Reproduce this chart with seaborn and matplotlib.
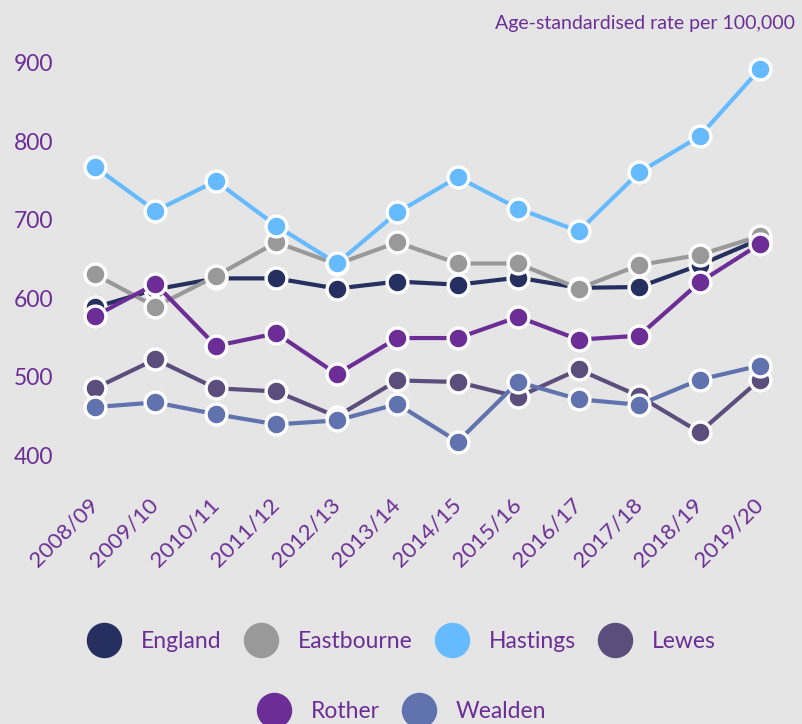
import matplotlib
matplotlib.use("Agg")
import matplotlib.pyplot as plt
from matplotlib.lines import Line2D
import seaborn as sns
import pandas as pd

years = ["2008/09", "2009/10", "2010/11", "2011/12", "2012/13", "2013/14",
         "2014/15", "2015/16", "2016/17", "2017/18", "2018/19", "2019/20"]
england = [588, 611, 625, 625, 612, 621, 617, 626, 613, 614, 642, 675]
eastbourne = [630, 589, 628, 671, 643, 671, 644, 644, 612, 642, 655, 679]
hastings = [767, 711, 749, 692, 644, 709, 754, 714, 685, 760, 806, 892]
lewes = [485, 522, 485, 481, 449, 495, 493, 474, 509, 475, 429, 496]
rother = [577, 618, 539, 555, 503, 549, 549, 576, 547, 552, 620, 669]
wealden = [461, 467, 452, 439, 444, 465, 417, 493, 471, 464, 496, 514]

areas = ["England", "Eastbourne", "Hastings", "Lewes", "Rother", "Wealden"]
series = [england, eastbourne, hastings, lewes, rother, wealden]
colors = ["#253060", "#999999", "#66bbff", "#5c4e7c", "#6c2e96", "#6173ae"]
text_color = "#6c2e96"
bg = "#e5e5e5"

df = pd.DataFrame({
    "year": [y for _ in areas for y in years],
    "area": [a for a in areas for _ in years],
    "value": [v for s in series for v in s],
})

sns.set_theme(style="white")
plt.rcParams["font.family"] = ["Lato", "DejaVu Sans"]

fig = plt.figure(figsize=(8.03, 7.24), dpi=100, facecolor=bg)
ax = fig.add_axes([60 / 803, 1 - 470 / 724, 730 / 803, 430 / 724])
ax.set_facecolor(bg)

sns.lineplot(data=df, x="year", y="value", hue="area", hue_order=areas,
             palette=dict(zip(areas, colors)), marker="o", markersize=15,
             markeredgecolor="white", markeredgewidth=2.4, linewidth=3,
             legend=False, sort=False, ax=ax)

ax.set_xlim(-0.579, 11.496)
ax.set_ylim(380.9, 928.7)
ax.set_yticks([400, 500, 600, 700, 800, 900])
ax.set_xlabel("")
ax.set_ylabel("")
for s in ax.spines.values():
    s.set_visible(False)
ax.grid(False)
ax.tick_params(axis="both", length=0, colors=text_color, labelsize=16.5)
ax.tick_params(axis="y", pad=5)
ax.tick_params(axis="x", pad=23)
ax.set_xticks(range(len(years)))
ax.set_xticklabels(years, rotation=45, ha="right", va="center",
                   rotation_mode="anchor", color=text_color, fontsize=16)
for lab in ax.get_yticklabels():
    lab.set_color(text_color)

fig.text(795 / 803, 1 - 23 / 724, "Age-standardised rate per 100,000",
         ha="right", va="center", color=text_color, fontsize=14)

def handles(names, cols):
    return [Line2D([], [], linestyle="none", marker="o", markersize=24.5,
                   markerfacecolor=c, markeredgecolor=c, label=n)
            for n, c in zip(names, cols)]

kw = dict(frameon=False, fontsize=16.5, labelcolor=text_color,
          handlelength=1.5, handletextpad=0.87, columnspacing=0.95,
          borderpad=0, borderaxespad=0)
leg1 = fig.legend(handles=handles(areas[:4], colors[:4]), ncol=4,
                  loc="center", bbox_to_anchor=(0.5, 1 - 642 / 724), **kw)
leg2 = fig.legend(handles=handles(areas[4:], colors[4:]), ncol=2,
                  loc="center", bbox_to_anchor=(0.5, 1 - 712 / 724), **kw)

fig.savefig("out.png", dpi=100, facecolor=bg)
